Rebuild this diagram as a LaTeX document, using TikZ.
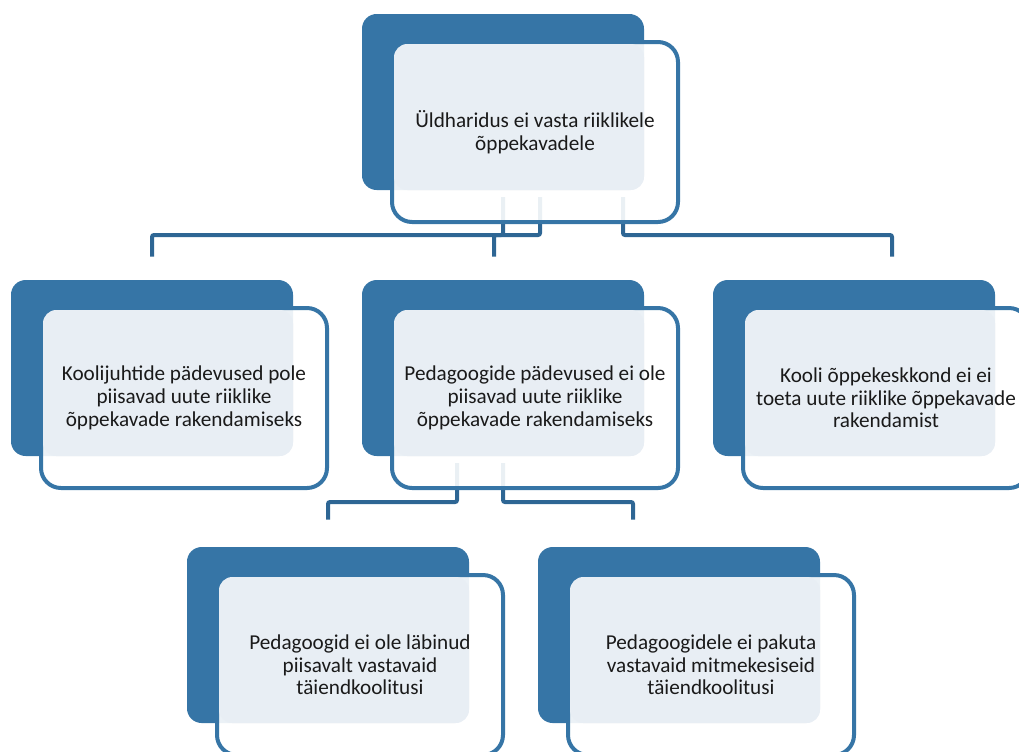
\documentclass[tikz,border=0pt]{standalone}
\usepackage{fontspec}
\setmainfont{Carlito}
\usetikzlibrary{calc,backgrounds}
\definecolor{dblue}{HTML}{3675A6}
\definecolor{cblue}{HTML}{2E6694}
\definecolor{lfill}{HTML}{E8EEF4}
\definecolor{tcol}{HTML}{1A1A1A}
\tikzset{
  backbox/.style={fill=dblue, draw=none, rounded corners=11pt, inner sep=0pt,
    minimum width=282*0.75pt, minimum height=176*0.75pt},
  framebox/.style={draw=dblue, line width=3pt, fill=white, fill opacity=0.9,
    rounded corners=15pt, inner sep=0pt, minimum width=286*0.75pt, minimum height=180*0.75pt},
  facebox/.style={fill=lfill, draw=none, rounded corners=10pt, inner sep=0pt,
    minimum width=250*0.75pt, minimum height=146*0.75pt},
  boxtext/.style={align=center, inner sep=0pt, text=tcol,
    font=\fontsize{15.9pt}{17pt}\selectfont},
  conn/.style={draw=cblue, line width=3pt, rounded corners=1.5pt},
}
\newcommand\blockat[4]{%
  \node[backbox] (#1back) at (#2+141,#3+88) {};
  \node[framebox] (#1box) at (#2+173,#3+118) {};
  \node[facebox] (#1face) at (#2+157,#3+103) {};
  \node[boxtext] (#1) at (#1box.center) {#4};
}
\begin{document}
\begin{tikzpicture}[x=0.75pt,y=-0.75pt]
\useasboundingbox (0,0) rectangle (1019,751);
\blockat{top}{362}{14}{Üldharidus ei vasta riiklikele\\õppekavadele}
\blockat{lft}{11}{280}{Koolijuhtide pädevused pole\\piisavad uute riiklike\\õppekavade rakendamiseks}
\blockat{mid}{362}{280}{Pedagoogide pädevused ei ole\\piisavad uute riiklike\\õppekavade rakendamiseks}
\blockat{rgt}{713}{280}{Kooli õppekeskkond ei ei\\toeta uute riiklike õppekavade\\rakendamist}
\blockat{bl}{187}{547}{Pedagoogid ei ole läbinud\\piisavalt vastavaid\\täiendkoolitusi}
\blockat{br}{538}{547}{Pedagoogidele ei pakuta\\vastavaid mitmekesiseid\\täiendkoolitusi}
% connector points
\coordinate (t1) at ($(topbox.center)+(-32,65)$);
\coordinate (t2) at ($(topbox.center)+(5,65)$);
\coordinate (t3) at ($(topbox.center)+(88,65)$);
\coordinate (bar) at (0,235);
\coordinate (lftin) at ($(lftback.north)+(0,-23)$);
\coordinate (midin) at ($(midback.north)+(-9,-23)$);
\coordinate (rgtin) at ($(rgtback.north)+(38,-23)$);
\coordinate (m1) at ($(midbox.center)+(-78,65)$);
\coordinate (m2) at ($(midbox.center)+(-32,65)$);
\coordinate (bar2) at (0,502);
\coordinate (blin) at ($(blback.north)+(0,-27)$);
\coordinate (brin) at ($(brback.north)+(-46,-27)$);
\begin{pgfonlayer}{background}
\draw[conn] (t1) |- (bar -| lftin) -- (lftin);
\draw[conn] (t2) |- (bar -| midin) -- (midin);
\draw[conn] (t3) |- (bar -| rgtin) -- (rgtin);
\draw[conn] (m1) |- (bar2 -| blin) -- (blin);
\draw[conn] (m2) |- (bar2 -| brin) -- (brin);
\end{pgfonlayer}
\end{tikzpicture}
\end{document}
